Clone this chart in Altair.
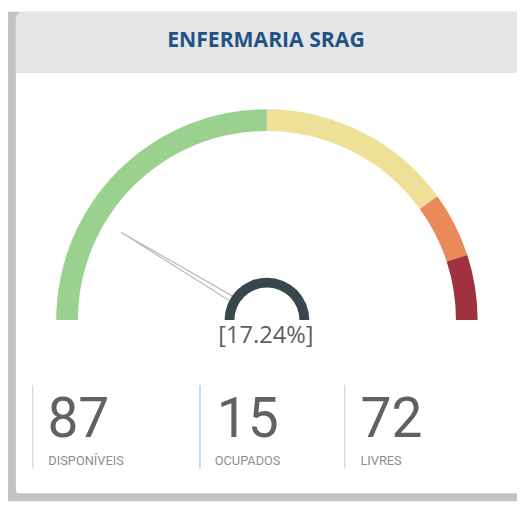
import math
import altair as alt
import pandas as pd

# ---- data ----
title_text = ["ENFERMARIA SRAG"]
kpi_labels = ["DISPONÍVEIS", "OCUPADOS", "LIVRES"]
kpi_values = [87, 15, 72]
band_names = ["Normal", "Atenção", "Alerta", "Crítico"]
band_start = [0.0, 0.5, 0.8, 0.9]
band_end = [0.5, 0.8, 0.9, 1.0]

# ---- derived tables ----
bands = pd.DataFrame({"band": band_names, "start": band_start, "end": band_end})
kpis = pd.DataFrame({"label": kpi_labels, "value": kpi_values})
gauge = pd.DataFrame({"disponiveis": [kpi_values[0]], "ocupados": [kpi_values[1]]})
hub = pd.DataFrame({"start": [0.0], "end": [1.0]})
title_df = pd.DataFrame({"t": title_text})
one = pd.DataFrame({"a": [0]})

W, H = 517, 497
CX, CY = 263, 313

theta_scale = alt.Scale(domain=[0, 1], range=[-math.pi / 2, math.pi / 2])

# background / card
bg = alt.Chart(one).mark_rect(color="#c3c3c3").encode(
    x=alt.value(0), x2=alt.value(W), y=alt.value(0), y2=alt.value(H))
card = alt.Chart(one).mark_rect(color="white", cornerRadiusTopLeft=8, cornerRadiusBottomLeft=3).encode(
    x=alt.value(8), x2=alt.value(W + 10), y=alt.value(0), y2=alt.value(489))
header = alt.Chart(one).mark_rect(color="#e5e5e5", cornerRadiusTopLeft=8).encode(
    x=alt.value(8), x2=alt.value(W + 10), y=alt.value(0), y2=alt.value(62))
title = alt.Chart(title_df).mark_text(
    font="Open Sans", fontSize=21.5, fontWeight="bold", color="#1f5287", baseline="middle", align="center"
).encode(x=alt.value(262), y=alt.value(30), text="t:N")

# gauge bands
arcs = alt.Chart(bands).mark_arc(radius=214, radius2=192).encode(
    theta=alt.Theta("start:Q", scale=theta_scale),
    theta2="end:Q",
    color=alt.Color("band:N", scale=alt.Scale(domain=band_names,
                    range=["#9bd18f", "#efe097", "#ea8a5a", "#a0323f"]), legend=None),
    x=alt.value(CX), y=alt.value(CY),
)

# needle
needle_path = "M -0.017 -0.21 L 0 -1 L 0.017 -0.21 Z"
needle = alt.Chart(gauge).transform_calculate(
    pct="datum.ocupados / datum.disponiveis"
).mark_point(shape=needle_path, size=(2 * 173) ** 2, filled=True, fill="white",
             stroke="#bdbdbd", strokeWidth=1.3, opacity=1).encode(
    angle=alt.Angle("pct:Q", scale=alt.Scale(domain=[0, 1], range=[270, 450])),
    x=alt.value(CX), y=alt.value(CY),
)

hub_arc = alt.Chart(hub).mark_arc(radius=43, radius2=33, color="#37474b").encode(
    theta=alt.Theta("start:Q", scale=theta_scale),
    theta2="end:Q",
    x=alt.value(CX), y=alt.value(CY),
)

pct_text = alt.Chart(gauge).transform_calculate(
    lbl="'[' + format(datum.ocupados / datum.disponiveis * 100, '.2f') + '%]'"
).mark_text(font="Open Sans", fontSize=24, color="#5e5e5e", align="center", baseline="middle").encode(
    x=alt.value(CX - 1), y=alt.value(329), text="lbl:N")

# KPI section
sep_x = [25, 195, 342]
sep_col = ["#dcdcdc", "#a9d4f6", "#dcdcdc"]
num_x = [40, 212, 358]
lab_x = [41, 210, 358]
layers = [bg, card, header, title, arcs, needle, hub_arc, pct_text]
for i, lab in enumerate(kpi_labels):
    base = alt.Chart(kpis).transform_filter(alt.datum.label == lab)
    layers.append(alt.Chart(one).mark_rule(color=sep_col[i], strokeWidth=1.5).encode(
        x=alt.value(sep_x[i]), y=alt.value(379), y2=alt.value(464)))
    layers.append(base.mark_text(font="Roboto", fontSize=56, color="#616161", align="left",
                                 baseline="alphabetic").encode(
        x=alt.value(num_x[i]), y=alt.value(432), text="value:Q"))
    layers.append(base.mark_text(font="Roboto", fontSize=13, color="#8e8e8e", align="left",
                                 baseline="alphabetic").encode(
        x=alt.value(lab_x[i]), y=alt.value(460), text="label:N"))

chart = alt.layer(*layers).properties(
    width=W, height=H, padding=0, autosize=alt.AutoSizeParams(type="none")
).configure_view(stroke=None)

chart.save("out.html", embed_options={"renderer": "svg", "actions": False})
